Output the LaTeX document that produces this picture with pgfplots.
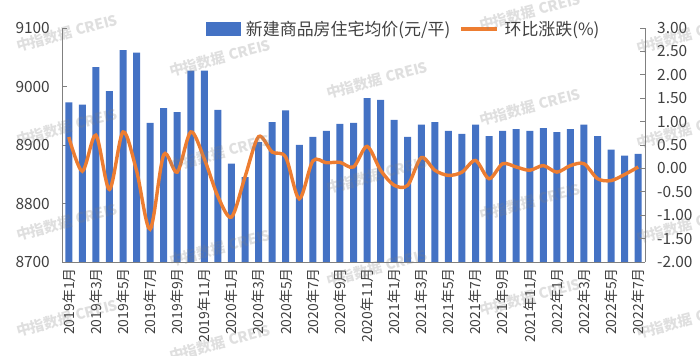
\documentclass[border=0pt]{standalone}
\usepackage{pgfplots}
\pgfplotsset{compat=1.18}
\usepackage{fontspec}
\setmainfont{Noto Sans CJK SC}
\definecolor{barblue}{HTML}{4472C4}
\definecolor{lineorange}{HTML}{ED7D31}
\definecolor{axisgray}{HTML}{808080}
\definecolor{textgray}{HTML}{404040}
\begin{document}
\begin{tikzpicture}
\useasboundingbox (0,0) rectangle (700bp,356bp);
\begin{axis}[
  at={(62bp,94bp)}, anchor=south west,
  scale only axis, width=583bp, height=234bp,
  xmin=-0.5, xmax=42.5, ymin=8700, ymax=9100,
  axis x line*=bottom, axis y line*=left,
  axis line style={draw=axisgray, line width=0.8bp, -},
  ytick={8700,8800,...,9100},
  tick align=inside, major tick length=5bp,
  y tick style={draw=axisgray, line width=0.8bp},
  x tick style={draw=none},
  /pgf/number format/assume math mode=true,
  /pgf/number format/1000 sep={},
  y tick label style={font=\fontsize{15.5}{16}\selectfont, text=textgray, inner sep=0pt, anchor=east, xshift=-12bp},
  xtick={0,2,...,42},
  xticklabels={2019年1月,2019年3月,2019年5月,2019年7月,2019年9月,2019年11月,2020年1月,2020年3月,2020年5月,2020年7月,2020年9月,2020年11月,2021年1月,2021年3月,2021年5月,2021年7月,2021年9月,2021年11月,2022年1月,2022年3月,2022年5月,2022年7月},
  x tick label style={font=\fontsize{14}{14}\selectfont, text=textgray, rotate=90, anchor=east, inner sep=0pt, inner xsep=6bp},
]
\addplot[ybar, bar width=7bp, fill=barblue, draw=none] coordinates {
(0,8973)(1,8969)(2,9033)(3,8992)(4,9062)(5,9058)(6,8938)(7,8963)(8,8956)(9,9027)(10,9027)(11,8960)(12,8868)(13,8845)(14,8905)(15,8939)(16,8959)(17,8900)(18,8914)(19,8924)(20,8936)(21,8938)(22,8980)(23,8977)(24,8943)(25,8914)(26,8935)(27,8939)(28,8924)(29,8919)(30,8935)(31,8915)(32,8924)(33,8927)(34,8924)(35,8929)(36,8922)(37,8927)(38,8935)(39,8915)(40,8892)(41,8882)(42,8885)
};
\end{axis}
\begin{axis}[
  at={(62bp,94bp)}, anchor=south west,
  scale only axis, width=583bp, height=234bp,
  xmin=-0.5, xmax=42.5, ymin=-2, ymax=3,
  hide x axis,
  axis y line*=right,
  axis line style={draw=axisgray, line width=0.8bp, -},
  ytick={-2,-1.5,...,3},
  tick align=inside, major tick length=5bp,
  y tick style={draw=axisgray, line width=0.8bp},
  /pgf/number format/assume math mode=true,
  /pgf/number format/.cd, fixed, fixed zerofill, precision=2, /pgfplots/.cd,
  y tick label style={font=\fontsize{15.5}{16}\selectfont, text=textgray, inner sep=0pt, anchor=west, xshift=12bp},
  legend style={at={(0.584,0.996)}, anchor=center, draw=none, fill=none,
    font=\fontsize{17}{17}\selectfont, text=textgray, inner sep=0pt,
    nodes={inner sep=0pt}, column sep=6bp,
    /tikz/every even column/.append style={column sep=9bp}},
  legend columns=-1, legend cell align=left,
]
\addlegendimage{legend image code/.code={\fill[barblue] (0bp,-6.5bp) rectangle (34bp,6.5bp);}}
\addlegendentry{新建商品房住宅均价(元/平)}
\addplot[lineorange, line width=3.4bp, smooth, tension=0.5,
  legend image code/.code={\draw[lineorange, line width=3.2bp] (0bp,0bp) -- (36bp,0bp);}] coordinates {
(0,0.67)(1,-0.06)(2,0.71)(3,-0.45)(4,0.78)(5,-0.05)(6,-1.30)(7,0.29)(8,-0.08)(9,0.78)(10,0.20)(11,-0.60)(12,-1.04)(13,-0.18)(14,0.68)(15,0.35)(16,0.24)(17,-0.65)(18,0.16)(19,0.12)(20,0.13)(21,0.03)(22,0.47)(23,-0.04)(24,-0.36)(25,-0.36)(26,0.23)(27,-0.04)(28,-0.15)(29,-0.08)(30,0.17)(31,-0.22)(32,0.10)(33,0.03)(34,-0.04)(35,0.06)(36,-0.08)(37,0.06)(38,0.10)(39,-0.22)(40,-0.26)(41,-0.13)(42,0.03)
};
\addlegendentry{环比涨跌(\%)}
\end{axis}
\foreach \x/\y in {67/323,67/229,67/134,67/38,220/298,220/203,220/108,220/13,377/276,377/181,377/88,530/344,530/249,530/154,530/59,687/321,687/226,687/131,687/36}{
  \node[rotate=15, text=gray, opacity=0.25, font=\bfseries\fontsize{14.5}{15}\selectfont] at (\x bp,\y bp) {中指数据 CREIS};
}
\end{tikzpicture}
\end{document}
